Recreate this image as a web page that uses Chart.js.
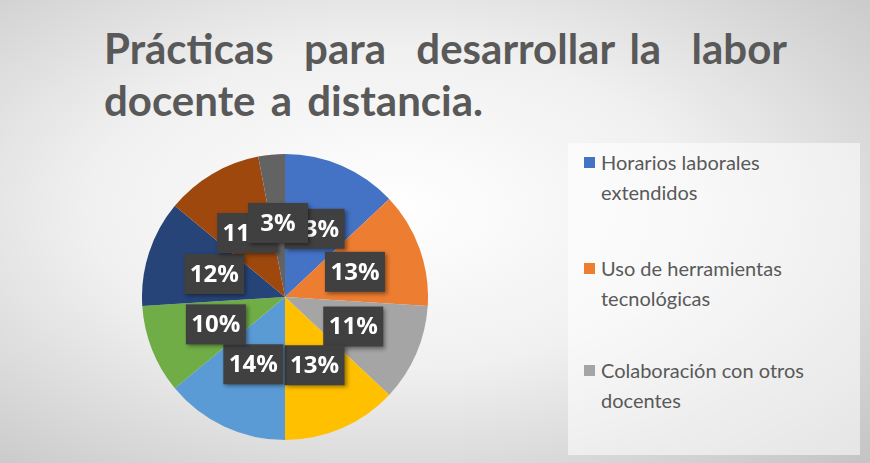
<!DOCTYPE html>
<html><head><meta charset="utf-8">
<script src="https://cdn.jsdelivr.net/npm/chart.js@4"></script>
<style>
body{margin:0;width:870px;height:463px;overflow:hidden;font-family:"Lato","Open Sans",sans-serif;
 background:radial-gradient(ellipse at 45% 45%,#ffffff 0%,#f0f0f0 45%,#c4c4c4 100%);position:relative}
#title{position:absolute;left:104px;top:22px;font-size:42px;font-weight:bold;color:#595959;line-height:52px;word-spacing:5px}
#legend{position:absolute;left:568px;top:143px;width:292px;height:312px;background:rgba(255,255,255,0.55)}
.item{position:absolute;left:33px;font-size:20px;color:#595959;line-height:30px}
.item span{position:absolute;left:-17px;top:10px;width:11px;height:11px}
#wrap{position:absolute;left:142px;top:154px;width:286px;height:286px}
</style></head><body>
<div id="title">Prácticas &nbsp;para &nbsp;desarrollar la &nbsp;labor<br>docente a distancia.</div>
<div id="legend">
 <div class="item" style="top:4px"><span style="background:#4472c4"></span>Horarios laborales<br>extendidos</div>
 <div class="item" style="top:110px"><span style="background:#ed7d31"></span>Uso de herramientas<br>tecnológicas</div>
 <div class="item" style="top:212px"><span style="background:#a5a5a5"></span>Colaboración con otros<br>docentes</div>
</div>
<div id="wrap"><canvas id="c"></canvas></div>
<script>
const categories = ['Horarios laborales extendidos','Uso de herramientas tecnológicas','Colaboración con otros docentes','Cat 4','Cat 5','Cat 6','Cat 7','Cat 8','Cat 9'];
const values = [13, 13, 11, 13, 14, 10, 12, 11, 3];
const colors = ['#4472c4','#ed7d31','#a5a5a5','#ffc000','#5b9bd5','#70ad47','#264478','#9e480e','#636363'];

const labelBoxes = {
  id: 'labelBoxes',
  afterDatasetsDraw(chart) {
    const ctx = chart.ctx;
    const meta = chart.getDatasetMeta(0);
    ctx.save();
    ctx.font = 'bold 24px "Open Sans", sans-serif';
    ctx.textAlign = 'center';
    ctx.textBaseline = 'middle';
    meta.data.forEach((arc, i) => {
      const mid = (arc.startAngle + arc.endAngle) / 2;
      const r = arc.outerRadius * 0.52;
      const x = arc.x + Math.cos(mid) * r, y = arc.y + Math.sin(mid) * r;
      const w = 60, h = 40;
      ctx.shadowColor = 'rgba(0,0,0,0.4)'; ctx.shadowBlur = 4; ctx.shadowOffsetX = 2; ctx.shadowOffsetY = 2;
      ctx.fillStyle = '#404040';
      ctx.fillRect(x - w / 2, y - h / 2, w, h);
      ctx.shadowColor = 'transparent';
      ctx.fillStyle = '#fff';
      ctx.fillText(values[i] + '%', x, y + 1);
    });
    ctx.restore();
  }
};

new Chart(document.getElementById('c'), {
  type: 'pie',
  data: { labels: categories, datasets: [{ data: values, backgroundColor: colors, borderWidth: 0 }] },
  options: {
    responsive: true, maintainAspectRatio: false, animation: false,
    layout: { padding: 0 },
    plugins: { legend: { display: false }, tooltip: { enabled: false } }
  },
  plugins: [labelBoxes]
});
</script>
</body></html>
